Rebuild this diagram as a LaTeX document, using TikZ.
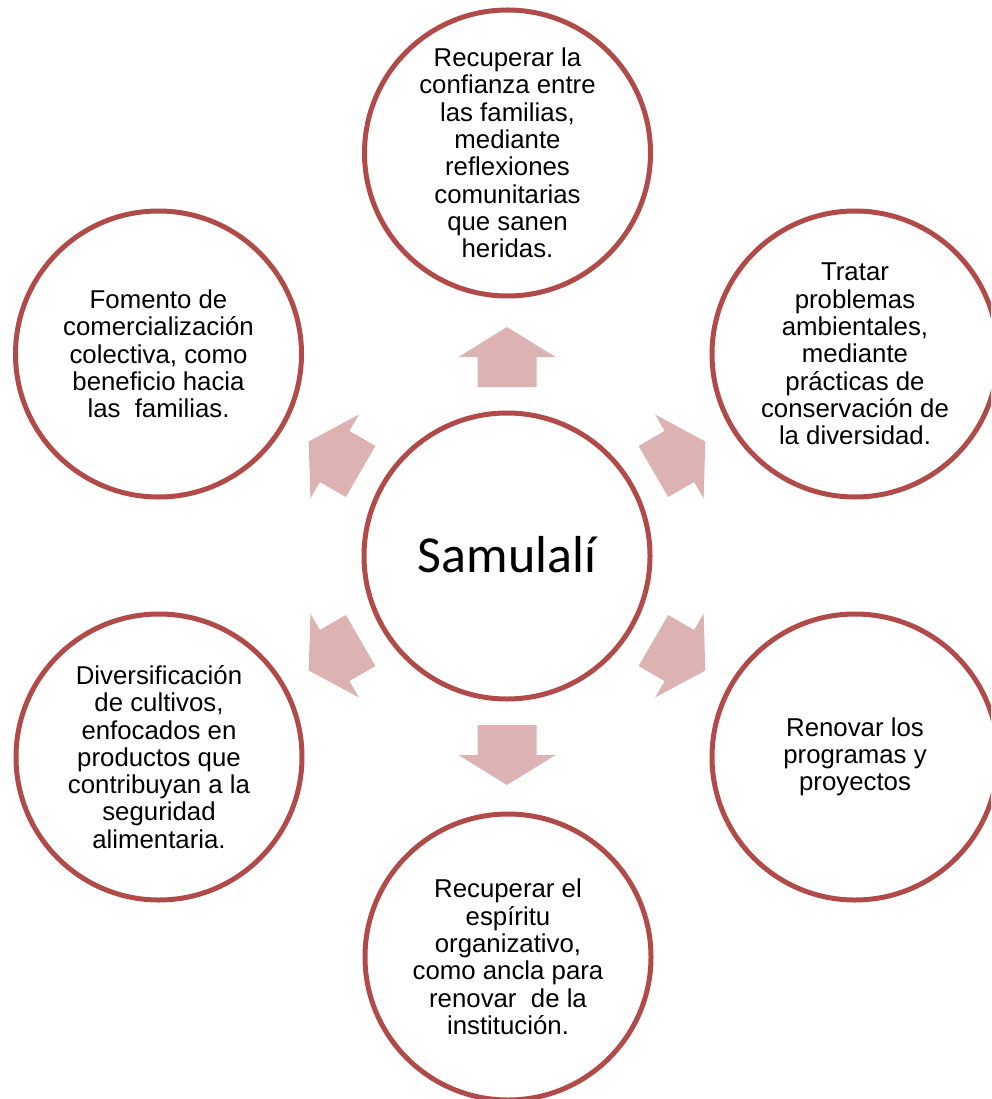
\documentclass[tikz,border=0pt]{standalone}
\usepackage{fontspec}
\setmainfont{Liberation Sans}
\newfontfamily\calib{Carlito}
\usetikzlibrary{calc}
\definecolor{ringred}{RGB}{176,75,73}
\definecolor{arrowpink}{RGB}{221,178,178}
\begin{document}
\begin{tikzpicture}[x=1pt,y=-1pt,
  ring/.style={circle, draw=ringred, line width=5pt, minimum size=286pt, inner sep=0pt},
  txt/.style={align=center, font=\fontsize{25.8}{27.3}\selectfont, inner sep=0pt},
  arrowshape/.style={fill=arrowpink}]
\useasboundingbox (0,0) rectangle (991,1099);
\clip (0,0) rectangle (991,1099);
\node[ring] (c0) at (507,556) {};
\node[ring] (c1) at (507.5,153) {};
\node[ring] (c2) at (855,354) {};
\node[ring] (c3) at (855,757) {};
\node[ring] (c4) at (508,957) {};
\node[ring] (c5) at (159,757) {};
\node[ring] (c6) at (158.5,354) {};
\foreach \a in {-90,-30,30,90,150,210}{
  \fill[arrowshape] ($(c0.center)+(\a:169)+(\a+90:29.5)$) -- ($(c0.center)+(\a:199)+(\a+90:29.5)$)
    -- ($(c0.center)+(\a:199)+(\a+90:48.5)$) -- ($(c0.center)+(\a:229)$)
    -- ($(c0.center)+(\a:199)+(\a-90:48.5)$) -- ($(c0.center)+(\a:199)+(\a-90:29.5)$)
    -- ($(c0.center)+(\a:169)+(\a-90:29.5)$) -- cycle;
}
\node[font=\calib\fontsize{52}{60}\selectfont, anchor=base, inner sep=0pt] (t0) at (507,572) {Samulalí};
\node[txt] (t1) at (c1) {Recuperar la\\confianza entre\\las familias,\\mediante\\reflexiones\\comunitarias\\que sanen\\heridas.};
\node[txt] (t2) at (c2) {Tratar\\problemas\\ambientales,\\mediante\\prácticas de\\conservación de\\la diversidad.};
\node[txt] (t3) at (c3) {Renovar los\\programas y\\proyectos};
\node[txt] (t4) at (c4) {Recuperar el\\espíritu\\organizativo,\\como ancla para\\renovar\ \ de la\\institución.};
\node[txt] (t5) at (c5) {Diversificación\\de cultivos,\\enfocados en\\productos que\\contribuyan a la\\seguridad\\alimentaria.};
\node[txt] (t6) at (c6) {Fomento de\\comercialización\\colectiva, como\\beneficio hacia\\las\ \ familias.};
\end{tikzpicture}
\end{document}
